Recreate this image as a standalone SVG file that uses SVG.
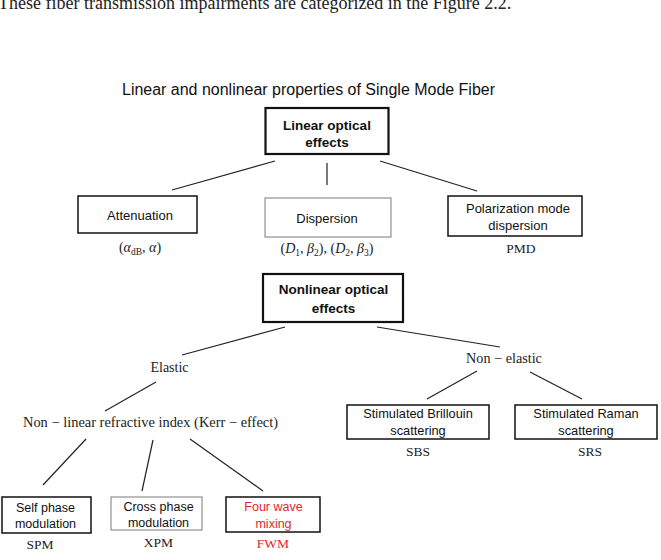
<svg xmlns="http://www.w3.org/2000/svg" width="661" height="560" viewBox="0 0 661 560">
<style>
.sans{font-family:"Liberation Sans",Arial,sans-serif;fill:#111}
.serif{font-family:"Liberation Serif","Times New Roman",serif;fill:#222}
.b{font-weight:bold}
.c{text-anchor:middle}
.box{fill:#fff;stroke:#111;stroke-width:1.5}
.thick{stroke-width:2.2}
.thin{stroke:#7a7a7a;stroke-width:1}
.red{fill:#e3262b}
.conn line{stroke:#222;stroke-width:1.2}
</style>
<rect width="661" height="560" fill="#fff"/>
<text class="serif" x="-2" y="8.5" font-size="18" fill="#111">These fiber transmission impairments are categorized in the Figure 2.2.</text>
<text class="sans c" x="308.5" y="95" font-size="16" textLength="373" lengthAdjust="spacingAndGlyphs">Linear and nonlinear properties of Single Mode Fiber</text>

<g id="connectors" class="conn">
<line x1="172" y1="190" x2="275" y2="161"/>
<line x1="327" y1="163" x2="327" y2="185"/>
<line x1="380" y1="161" x2="477" y2="191"/>
<line x1="285" y1="327" x2="182" y2="355"/>
<line x1="156" y1="382" x2="105" y2="411"/>
<line x1="377" y1="327" x2="500" y2="347"/>
<line x1="477" y1="371" x2="427" y2="399"/>
<line x1="530" y1="372" x2="582" y2="399"/>
<line x1="86" y1="439" x2="43" y2="485"/>
<line x1="153" y1="440" x2="142" y2="491"/>
<line x1="190" y1="439" x2="263" y2="491"/>
</g>

<g id="linear">
<rect class="box thick" x="265.5" y="108" width="123" height="46"/>
<text class="sans b c" x="327" y="130" font-size="13.5">Linear optical</text>
<text class="sans b c" x="327" y="147" font-size="13.5">effects</text>
</g>

<g id="attenuation">
<rect class="box" x="78" y="196" width="119" height="37"/>
<text class="sans c" x="140" y="220" font-size="13">Attenuation</text>
<text class="serif c" x="140" y="252" font-size="14">(<tspan font-style="italic">α</tspan><tspan font-size="9.5" dy="3">dB</tspan><tspan dy="-3">, </tspan><tspan font-style="italic">α</tspan>)</text>
</g>

<g id="dispersion">
<rect class="box thin" x="265" y="198" width="126" height="39"/>
<text class="sans c" x="327" y="222.5" font-size="13">Dispersion</text>
<text class="serif c" x="327" y="253" font-size="14">(<tspan font-style="italic">D</tspan><tspan font-size="9.5" dy="3">1</tspan><tspan dy="-3">, </tspan><tspan font-style="italic">β</tspan><tspan font-size="9.5" dy="3">2</tspan><tspan dy="-3">), (</tspan><tspan font-style="italic">D</tspan><tspan font-size="9.5" dy="3">2</tspan><tspan dy="-3">, </tspan><tspan font-style="italic">β</tspan><tspan font-size="9.5" dy="3">3</tspan><tspan dy="-3">)</tspan></text>
</g>

<g id="pmd">
<rect class="box" x="448" y="196" width="134" height="40"/>
<text class="sans c" x="518" y="213" font-size="13">Polarization mode</text>
<text class="sans c" x="518" y="230" font-size="13">dispersion</text>
<text class="serif c" x="521" y="253" font-size="13.5">PMD</text>
</g>

<g id="nonlinear">
<rect class="box thick" x="263" y="274" width="140" height="48"/>
<text class="sans b c" x="333.5" y="294" font-size="13.5">Nonlinear optical</text>
<text class="sans b c" x="333.5" y="312.5" font-size="13.5">effects</text>
</g>

<g id="elastic">
<text class="serif c" x="169.5" y="371.5" font-size="14">Elastic</text>
</g>

<g id="nonelastic">
<text class="serif c" x="504" y="363" font-size="14.2">Non − elastic</text>
</g>

<g id="kerr">
<text class="serif c" x="150.5" y="426.7" font-size="14.4" textLength="255" lengthAdjust="spacingAndGlyphs">Non − linear refractive index (Kerr − effect)</text>
</g>

<g id="sbs">
<rect class="box" x="347" y="405" width="142" height="34" stroke-width="1.2"/>
<text class="sans c" x="418" y="418" font-size="12.8">Stimulated Brillouin</text>
<text class="sans c" x="418" y="434.5" font-size="12.8">scattering</text>
<text class="serif c" x="418" y="456" font-size="13.5">SBS</text>
</g>

<g id="srs">
<rect class="box" x="515" y="405" width="142" height="34" stroke-width="1.2"/>
<text class="sans c" x="586" y="418" font-size="12.8">Stimulated Raman</text>
<text class="sans c" x="586" y="434.5" font-size="12.8">scattering</text>
<text class="serif c" x="590" y="456" font-size="13.5">SRS</text>
</g>

<g id="spm">
<rect class="box" x="2" y="497" width="89" height="36" stroke-width="1.8"/>
<text class="sans c" x="45.5" y="511.5" font-size="12.5">Self phase</text>
<text class="sans c" x="45.5" y="527.5" font-size="12.5">modulation</text>
<text class="serif c" x="40" y="548.5" font-size="13.5">SPM</text>
</g>

<g id="xpm">
<rect class="box thin" x="111" y="497" width="91" height="33"/>
<text class="sans c" x="158.5" y="510.7" font-size="12.5">Cross phase</text>
<text class="sans c" x="158.5" y="526.7" font-size="12.5">modulation</text>
<text class="serif c" x="158.5" y="547" font-size="13.5">XPM</text>
</g>

<g id="fwm">
<rect class="box" x="226" y="497" width="94" height="35"/>
<text class="sans c red" x="273.5" y="511" font-size="12.5">Four wave</text>
<text class="sans c red" x="273.5" y="527.5" font-size="12.5">mixing</text>
<text class="serif c red" x="273" y="548" font-size="13.5">FWM</text>
</g>
</svg>
